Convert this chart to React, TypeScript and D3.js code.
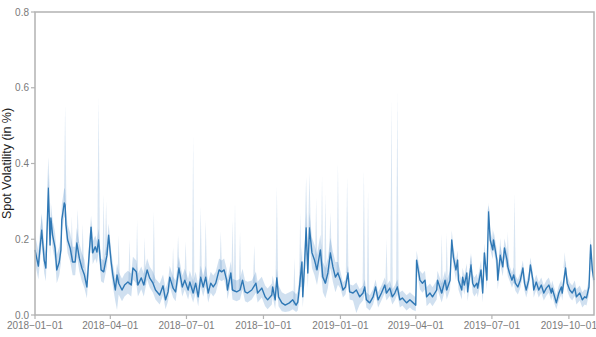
import React from "react";
import * as d3 from "d3";

// Day offsets from 2018-01-01 of each sampled observation
const dayOffsets = [
  0, 4, 6, 8, 11, 13, 16, 18, 19, 21, 24, 26, 29, 31, 32, 35, 36, 37, 39, 42, 45, 48, 50, 53, 56, 59,
  62, 67, 69, 72, 74, 76, 79, 82, 86, 88, 91, 93, 96, 98, 100, 104, 107, 111, 115, 117, 121, 123, 127,
  130, 134, 137, 141, 144, 149, 153, 156, 159, 161, 165, 168, 172, 176, 179, 183, 185, 189, 192, 195,
  198, 201, 204, 207, 210, 213, 216, 220, 223, 226, 229, 230, 234, 236, 241, 245, 248, 251, 254, 259,
  264, 266, 271, 275, 278, 283, 284, 287, 289, 291, 295, 299, 304, 308, 312, 314, 316, 319, 320, 322,
  324, 326, 328, 331, 334, 337, 341, 344, 347, 350, 353, 356, 359, 362, 365, 368, 371, 374, 376, 380,
  384, 388, 392, 394, 396, 400, 404, 407, 410, 414, 418, 420, 424, 427, 430, 433, 436, 439, 444, 448,
  451, 455, 456, 460, 463, 466, 468, 472, 475, 480, 481, 486, 490, 492, 496, 498, 500, 503, 505, 506,
  510, 511, 513, 516, 517, 521, 523, 525, 528, 529, 533, 535, 537, 540, 542, 544, 547, 548, 552, 553,
  556, 559, 561, 564, 565, 567, 570, 572, 574, 577, 580, 583, 585, 587, 590, 592, 595, 596, 599, 602,
  605, 608, 611, 614, 617, 618, 621, 623, 626, 629, 630, 634, 636, 639, 642, 645, 647, 651, 654, 657,
  659, 662, 664, 666, 668,
];

// Mean spot volatility
const meanVol = [
  0.172, 0.129, 0.177, 0.224, 0.145, 0.124, 0.335, 0.185, 0.256, 0.211, 0.177, 0.119, 0.14, 0.172, 0.251, 0.296, 0.29, 0.238, 0.198, 0.177, 0.14, 0.14, 0.19, 0.15, 0.124, 0.106,
  0.074, 0.232, 0.164, 0.18, 0.166, 0.198, 0.119, 0.114, 0.158, 0.211, 0.14, 0.106, 0.066, 0.106, 0.084, 0.066, 0.079, 0.087, 0.079, 0.124, 0.114, 0.079, 0.098,
  0.079, 0.119, 0.098, 0.084, 0.066, 0.053, 0.077, 0.04, 0.061, 0.1, 0.071, 0.061, 0.124, 0.074, 0.092, 0.066, 0.087, 0.058, 0.084, 0.048,
  0.1, 0.074, 0.1, 0.058, 0.084, 0.074, 0.084, 0.119, 0.114, 0.119, 0.092, 0.066, 0.111, 0.066, 0.061, 0.066, 0.092, 0.061, 0.058, 0.066,
  0.084, 0.058, 0.071, 0.048, 0.04, 0.053, 0.074, 0.04, 0.098, 0.048, 0.032, 0.026, 0.032, 0.04, 0.026, 0.034, 0.074, 0.14, 0.048, 0.127,
  0.23, 0.111, 0.23, 0.164, 0.145, 0.119, 0.172, 0.1, 0.084, 0.111, 0.164, 0.127, 0.1, 0.111, 0.092, 0.066, 0.074, 0.111, 0.061, 0.058,
  0.066, 0.048, 0.058, 0.074, 0.04, 0.032, 0.048, 0.074, 0.04, 0.058, 0.079, 0.058, 0.071, 0.048, 0.058, 0.074, 0.04, 0.045, 0.032, 0.04,
  0.034, 0.026, 0.145, 0.092, 0.084, 0.092, 0.048, 0.058, 0.048, 0.066, 0.092, 0.058, 0.092, 0.066, 0.092, 0.198, 0.153, 0.119, 0.145, 0.092,
  0.066, 0.1, 0.079, 0.111, 0.061, 0.132, 0.084, 0.074, 0.084, 0.071, 0.119, 0.058, 0.164, 0.092, 0.272, 0.198, 0.172, 0.198, 0.145, 0.092,
  0.158, 0.127, 0.177, 0.145, 0.127, 0.111, 0.092, 0.106, 0.084, 0.074, 0.092, 0.124, 0.084, 0.066, 0.092, 0.132, 0.092, 0.066, 0.087, 0.066,
  0.079, 0.058, 0.071, 0.079, 0.058, 0.071, 0.048, 0.032, 0.058, 0.074, 0.058, 0.124, 0.084, 0.066, 0.058, 0.071, 0.048, 0.058, 0.04, 0.048,
  0.045, 0.074, 0.185, 0.119, 0.092,
];

// Lower edge of the confidence band
const lowerVol = [
  0.137, 0.094, 0.142, 0.189, 0.11, 0.089, 0.3, 0.15, 0.221, 0.176, 0.142, 0.084, 0.105, 0.137, 0.216, 0.261, 0.255, 0.203, 0.163, 0.142, 0.105, 0.105, 0.155, 0.115, 0.089, 0.071,
  0.044, 0.202, 0.134, 0.15, 0.136, 0.168, 0.089, 0.084, 0.128, 0.181, 0.11, 0.076, 0.036, 0.013, 0.054, 0.036, 0.049, 0.057, 0.049, 0.094, 0.084, 0.049, 0.068,
  0.049, 0.094, 0.073, 0.059, 0.041, 0.028, 0.052, 0.015, 0.036, 0.075, 0.046, 0.036, 0.099, 0.049, 0.067, 0.041, 0.062, 0.033, 0.059, 0.023,
  0.075, 0.049, 0.075, 0.033, 0.059, 0.049, 0.059, 0.094, 0.089, 0.094, 0.067, 0.041, 0.086, 0.041, 0.036, 0.041, 0.067, 0.036, 0.033, 0.041,
  0.059, 0.033, 0.046, 0.023, 0.015, 0.028, 0.049, 0.015, 0.073, 0.023, 0.01, 0.008, 0.01, 0.015, 0.008, 0.012, 0.045, 0.1, 0.02, 0.087,
  0.19, 0.071, 0.19, 0.124, 0.105, 0.079, 0.132, 0.06, 0.044, 0.071, 0.124, 0.087, 0.06, 0.08, 0.07, 0.046, 0.054, 0.091, 0.041, 0.038,
  0.005, 0.028, 0.038, 0.054, 0.02, 0.012, 0.028, 0.054, 0.02, 0.038, 0.059, 0.038, 0.051, 0.028, 0.038, 0.054, 0.02, 0.025, 0.012, 0.02,
  0.014, 0.01, 0.12, 0.067, 0.059, 0.067, 0.023, 0.033, 0.023, 0.041, 0.067, 0.033, 0.067, 0.041, 0.067, 0.173, 0.128, 0.094, 0.12, 0.067,
  0.041, 0.075, 0.054, 0.086, 0.036, 0.107, 0.059, 0.049, 0.059, 0.046, 0.094, 0.033, 0.139, 0.067, 0.247, 0.173, 0.147, 0.173, 0.12, 0.067,
  0.133, 0.102, 0.152, 0.12, 0.102, 0.091, 0.072, 0.086, 0.064, 0.054, 0.072, 0.104, 0.064, 0.046, 0.072, 0.112, 0.072, 0.046, 0.067, 0.046,
  0.059, 0.038, 0.051, 0.059, 0.038, 0.051, 0.028, 0.015, 0.038, 0.054, 0.038, 0.104, 0.064, 0.046, 0.038, 0.051, 0.028, 0.038, 0.02, 0.028,
  0.025, 0.054, 0.16, 0.099, 0.072,
];

// Upper edge of the confidence band (without the one-day spikes)
const upperVol = [
  0.212, 0.169, 0.217, 0.264, 0.185, 0.164, 0.375, 0.225, 0.296, 0.251, 0.217, 0.159, 0.18, 0.212, 0.291, 0.336, 0.33, 0.278, 0.238, 0.217, 0.18, 0.18, 0.23, 0.19, 0.164, 0.146,
  0.104, 0.262, 0.194, 0.21, 0.196, 0.228, 0.149, 0.144, 0.188, 0.241, 0.17, 0.136, 0.096, 0.136, 0.114, 0.096, 0.109, 0.117, 0.109, 0.154, 0.144, 0.109, 0.128,
  0.109, 0.149, 0.128, 0.114, 0.096, 0.083, 0.107, 0.07, 0.091, 0.13, 0.101, 0.091, 0.154, 0.104, 0.122, 0.096, 0.117, 0.088, 0.114, 0.078,
  0.13, 0.104, 0.13, 0.088, 0.114, 0.104, 0.114, 0.149, 0.144, 0.149, 0.122, 0.096, 0.141, 0.096, 0.091, 0.096, 0.122, 0.091, 0.088, 0.091,
  0.114, 0.088, 0.101, 0.078, 0.07, 0.083, 0.104, 0.07, 0.123, 0.078, 0.06, 0.055, 0.06, 0.065, 0.055, 0.062, 0.105, 0.18, 0.088, 0.167,
  0.27, 0.151, 0.27, 0.204, 0.185, 0.159, 0.212, 0.14, 0.124, 0.151, 0.204, 0.167, 0.14, 0.14, 0.115, 0.086, 0.094, 0.131, 0.081, 0.078,
  0.086, 0.068, 0.078, 0.094, 0.06, 0.052, 0.068, 0.094, 0.06, 0.078, 0.099, 0.078, 0.091, 0.068, 0.078, 0.094, 0.06, 0.065, 0.052, 0.06,
  0.054, 0.046, 0.17, 0.117, 0.109, 0.117, 0.073, 0.083, 0.073, 0.091, 0.117, 0.083, 0.117, 0.091, 0.117, 0.224, 0.178, 0.144, 0.17, 0.117,
  0.091, 0.125, 0.104, 0.136, 0.086, 0.157, 0.109, 0.099, 0.109, 0.096, 0.144, 0.083, 0.189, 0.117, 0.297, 0.223, 0.197, 0.223, 0.17, 0.117,
  0.183, 0.152, 0.202, 0.17, 0.152, 0.131, 0.112, 0.126, 0.104, 0.094, 0.112, 0.144, 0.104, 0.086, 0.112, 0.152, 0.112, 0.086, 0.107, 0.086,
  0.099, 0.078, 0.091, 0.099, 0.078, 0.091, 0.068, 0.052, 0.078, 0.094, 0.078, 0.144, 0.104, 0.086, 0.078, 0.091, 0.068, 0.078, 0.06, 0.068,
  0.065, 0.094, 0.205, 0.139, 0.112,
];

// One-day spikes of the band's upper edge
const spikeDays = [
  8, 16, 36, 44, 51, 57, 68, 76, 82, 85, 100, 113, 122, 131, 142, 165, 171, 180, 189, 198, 204, 222,
  236, 239, 245, 262, 289, 310, 317, 324, 328, 336, 343, 347, 353, 362, 373, 393, 398, 420, 426, 433,
  486, 492, 521, 542, 547, 556, 565, 573, 633,
];
const spikeHighs = [
  0.27, 0.417, 0.555, 0.26, 0.28, 0.24, 0.25, 0.573, 0.32, 0.3, 0.21, 0.2, 0.25, 0.206, 0.272, 0.18, 0.21, 0.195, 0.47, 0.285, 0.25, 0.22,
  0.25, 0.296, 0.22, 0.185, 0.338, 0.15, 0.27, 0.365, 0.375, 0.31, 0.365, 0.32, 0.27, 0.4, 0.365, 0.383, 0.33, 0.2, 0.568, 0.586,
  0.216, 0.216, 0.164, 0.29, 0.23, 0.203, 0.22, 0.322, 0.166,
];

const yTickValues = [0, 0.2, 0.4, 0.6, 0.8];
const yLabel = "Spot Volatility (in %)";

const W = 596;
const H = 337;
const M = { left: 35, right: 2, top: 12, bottom: 22 };

export default function App() {
  const start = new Date(Date.UTC(2018, 0, 1));
  const end = new Date(Date.UTC(2019, 9, 31));
  const x = d3.scaleUtc().domain([start, end]).range([M.left, W - M.right]);
  const y = d3.scaleLinear().domain([0, 0.8]).range([H - M.bottom, M.top]);

  const rows = dayOffsets.map((d, i) => ({
    day: d,
    date: d3.utcDay.offset(start, d),
    mean: meanVol[i],
    lo: lowerVol[i],
    hi: upperVol[i],
  }));

  const area = d3
    .area<any>()
    .x((d) => x(d.date))
    .y0((d) => y(d.lo))
    .y1((d) => y(d.hi));
  const line = d3
    .line<any>()
    .x((d) => x(d.date))
    .y((d) => y(d.mean));

  const bisect = d3.bisector((r: any) => r.day).center;
  const spikes = spikeDays.map((d, i) => {
    const r = rows[bisect(rows, d)];
    const cx = x(d3.utcDay.offset(start, d));
    const base = y(r.mean);
    const top = y(spikeHighs[i]);
    return `M${cx - 1.3},${base}L${cx},${top}L${cx + 1.3},${base}Z`;
  });

  const xTicks = x.ticks(d3.utcMonth.every(3) as any);
  const fmt = d3.utcFormat("%Y-%m-%d");
  const x0 = M.left;
  const x1 = W - M.right;
  const yb = H - M.bottom;
  const yt = M.top;
  const spine = "#b3b3b3";
  const tickColor = "#7a7a7a";
  const font = "'Liberation Sans', Arial, sans-serif";

  return (
    <svg
      width={W}
      height={H}
      style={{ position: "absolute", left: 0, top: 0, background: "#fff" }}
      fontFamily={font}
    >
      {spikes.map((p, i) => (
        <path key={i} d={p} fill="#3a7ebf" fillOpacity={0.2} stroke="none" />
      ))}
      <path d={area(rows) || ""} fill="#3a7ebf" fillOpacity={0.24} stroke="none" />
      <path d={line(rows) || ""} fill="none" stroke="#2f78b5" strokeWidth={1.4} strokeLinejoin="round" />

      {/* spines */}
      <rect x={x0} y={yt} width={x1 - x0} height={yb - yt} fill="none" stroke={spine} strokeWidth={1.5} />

      {/* y ticks */}
      {yTickValues.map((v) => (
        <g key={v}>
          <line x1={x0 - 4} x2={x0} y1={y(v)} y2={y(v)} stroke={spine} strokeWidth={1.2} />
          <text x={x0 - 6} y={y(v)} dy="0.35em" textAnchor="end" fontSize={10} fill={tickColor}>
            {d3.format(".1f")(v)}
          </text>
        </g>
      ))}

      {/* x ticks */}
      {xTicks.map((t) => (
        <g key={+t}>
          <line x1={x(t)} x2={x(t)} y1={yb} y2={yb + 4} stroke={spine} strokeWidth={1.2} />
          <text x={x(t)} y={yb + 14} textAnchor="middle" fontSize={10} fill={tickColor}>
            {fmt(t).replace(/-/g, "\u2212")}
          </text>
        </g>
      ))}

      <text
        transform={`translate(11, ${(yt + yb) / 2}) rotate(-90)`}
        textAnchor="middle"
        fontSize={12.5}
        fill="#222"
      >
        {yLabel}
      </text>
    </svg>
  );
}
